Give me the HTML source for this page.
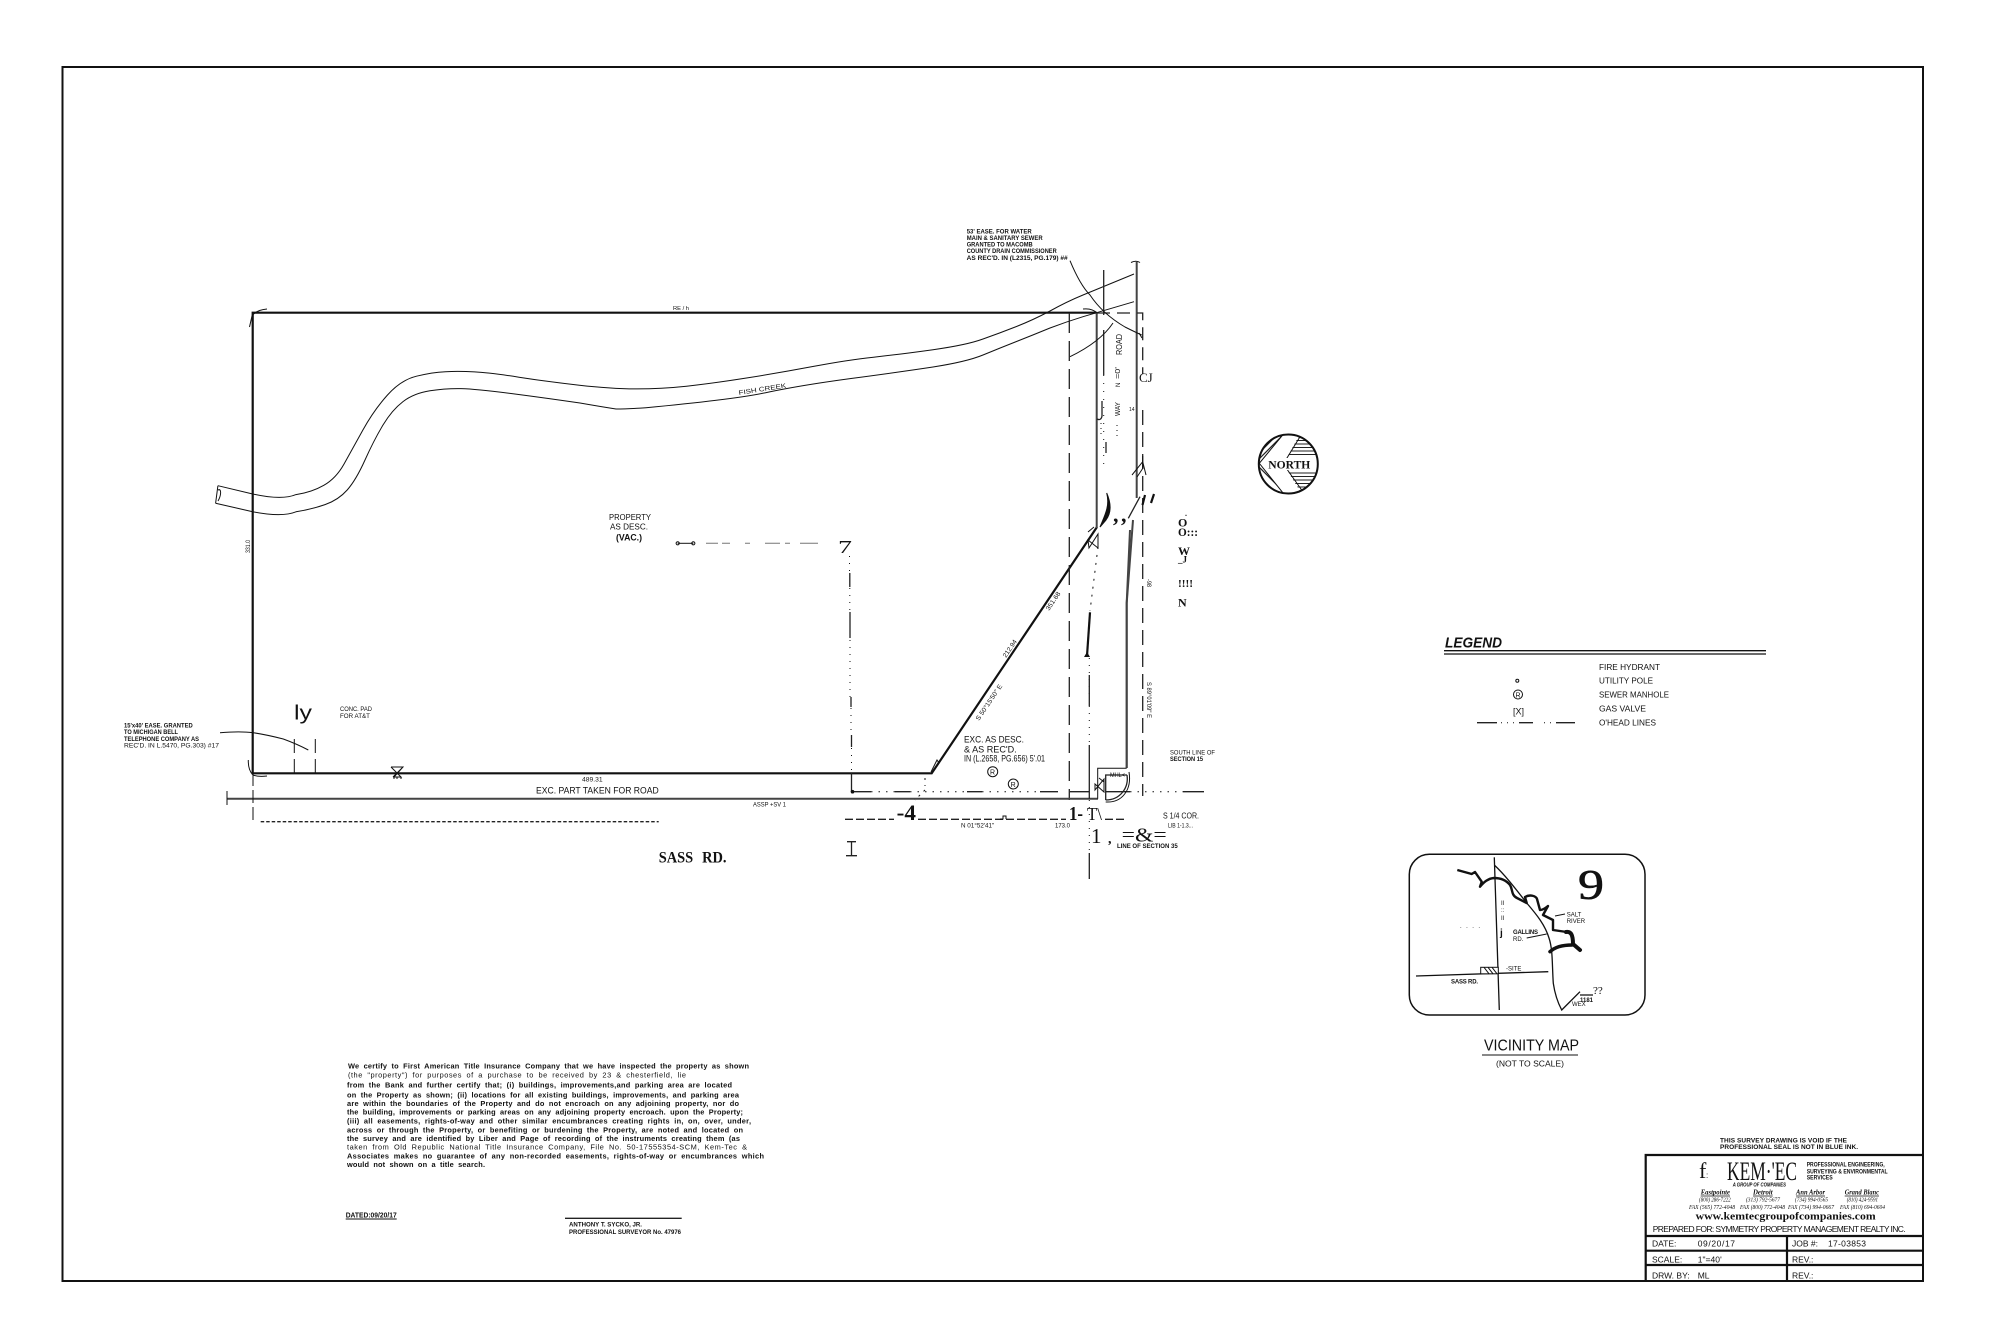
<!DOCTYPE html>
<html><head><meta charset="utf-8"><title>Survey</title>
<style>
html,body{margin:0;padding:0;background:#fff}
svg{display:block}
text{font-family:"Liberation Sans",sans-serif;fill:#111}
.s{font-family:"Liberation Serif",serif}
.b{font-weight:bold}
.l{fill:none;stroke:#111;stroke-width:1}
.m{fill:none;stroke:#222;stroke-width:1.3}
.t{fill:none;stroke:#111;stroke-width:2.2}
.g{fill:none;stroke:#444;stroke-width:2}
</style></head><body>
<svg xmlns="http://www.w3.org/2000/svg" width="2000" height="1333" viewBox="0 0 2000 1333">
<rect width="2000" height="1333" fill="#fff"/>
<rect x="62.5" y="67" width="1860.5" height="1214" fill="none" stroke="#111" stroke-width="2"/>

<!-- creek -->
<path class="l" d="M217.9,485.7 L252.7,494 Q282,500.5 296,494.6 Q311.6,492.3 323.8,485.3 Q336,478.3 343.9,464.2 Q351.8,450 362.9,430 Q374,410 387.5,395 Q400.9,380 416.5,376.2 Q432,372.3 445.5,371.7 Q459,371 474.5,371.9 Q490,372.7 519,377.2 Q548,381.7 579.4,385.2 Q610.7,388.7 635.4,388.9 Q660,389 686.5,386.2 Q713,383.3 746.5,378 Q780,372.7 813.5,366.4 Q847,360 873.5,357.2 Q900,354.3 933,349.7 Q966.7,345 983,339 Q1000,333 1016.5,326.5 Q1033,320 1050,311 Q1066.7,301.7 1083,295 Q1100,288 1117,281 L1134,274"/>
<path class="l" d="M215.6,503.3 L252.7,511.7 Q282,517.5 296,511.8 Q311.6,509.3 325,504.6 Q338.4,500 347.2,490 Q356,480 365,460 Q374,440 383,425 Q392,410 403,401.6 Q414,393.3 430,390.8 Q445.5,388.3 461,388.6 Q476.8,389 512,393.6 Q548,398.3 580,403 Q600,406.5 616,409 Q628,409 646,407.7 Q735.7,399.3 769,392 Q802.7,385 851,378.5 Q900,372 933,367 Q966.7,361.7 983,355 Q1000,348 1016.5,341.5 Q1033,335 1050,328 Q1066.7,321.7 1083,316.7 Q1100,311.7 1117,306.7 L1134,301.7"/>
<path class="l" d="M217.9,485.7 L215.6,503.3 M218,490 C222,488 221,496 218,501"/>

<!-- property boundary -->
<path class="t" d="M1096.7,312.7 H252.7 V773.3 H931.7 L1097,527"/>
<path class="g" d="M1096.7,312.7 V528"/>
<path class="g" d="M1136.7,262 V498" stroke-width="1.5"/>
<path class="l" d="M1131,262.5 Q1136,260 1140,262.5"/>
<path class="g" d="M1133,520 L1126.7,603 V768" stroke-width="2.5"/>
<path class="g" d="M1130,530 L1126.7,603 V768" stroke-width="3"/>
<path class="l" d="M267,309 Q256,310 252,316 L249.5,327"/>
<path class="l" d="M248.3,760 Q248,770 253,775 Q258,777 267,776"/>
<path class="l" d="M1083,309 Q1092,308 1097,313"/>

<!-- dashed columns -->
<path class="m" stroke-dasharray="20 8" d="M1069.3,313 V800"/>
<path class="m" stroke-dasharray="13 7" d="M1097,313 H1142.7 V374"/>
<path class="m" stroke-dasharray="15 7" d="M1142.7,410 V796"/>
<path class="m" d="M1103.7,270 V315 M1103.7,330 V375"/>
<path class="l" stroke-dasharray="1 7" d="M1103.7,375 V470"/>

<!-- leaders -->
<path class="l" d="M1070,260.7 C1078,280 1085,290 1090,295 C1100,310 1113,320 1125,327 Q1135,332 1141.7,335"/>
<path class="l" d="M1113,323 C1105,335 1090,347 1070,356.7"/>
<path class="l" d="M1139,333 L1142,338"/>

<!-- OCR-y marks -->
<path d="M1106.7,493 C1111,503 1112,512 1106,520 L1100,527 C1105,515 1110,506 1106.7,493Z" fill="#111" stroke="#111"/>
<path class="m" d="M1128.3,518.3 L1140,496.7"/>
<path class="t" d="M1145,495 L1142.5,505 M1154,494 L1151,503"/>
<path class="l" d="M1132,475 L1142.7,461.7 L1146,475 M1137,477 L1143,468 M1142.7,456 V468"/>
<path class="l" d="M1088,540 L1098,548 V534 L1089,548 Z M1088,532 L1094,527"/>
<path class="m" d="M1102,401 V416 Q1101,421 1097,419" stroke-width="1.6"/>
<path class="l" stroke-dasharray="1 4" d="M1101,423 V438 M1117,425 V440"/>
<path class="m" d="M1106,442 V453" stroke-width="1.8"/>

<!-- line near 7 -->
<circle cx="677.7" cy="543.3" r="1.6" class="l"/><circle cx="693.3" cy="543.3" r="1.6" class="l"/>
<path class="l" d="M677.7,543.3 H693.3"/>
<path class="l" d="M706,543.3 H718 M765,543.3 H780 M800,543.3 H818 M722,543.3 H730 M745,543.3 H750 M785,543.3 H790" style="stroke:#777"/>
<path class="m" d="M849.8,573 V587 M850,612 V638 M851,697 V707 M851.5,735 V747 M851.5,773 V792"/>
<path class="l" stroke-dasharray="1 6" d="M849.5,556 V573 M849.8,588 V612 M850,640 V697 M851,708 V735 M851.5,748 V773"/>
<path class="m" d="M847,841.7 H856 M851.5,841.7 V855.7 M846,855.7 H857"/>

<!-- road lines -->
<path class="g" d="M227.5,798.7 H1098" stroke-width="1.6"/>
<path class="l" d="M227,791 V805"/>
<path class="l" stroke-dasharray="13 4" d="M253,773 V820"/>
<path class="m" stroke-dasharray="3.5 2" d="M260.7,821.7 H658.7" stroke-width="2"/>
<path class="m" stroke-dasharray="8 3" d="M845,819.3 H895 M918,819.3 H1066"/>
<path class="m" stroke-dasharray="8 3" d="M1105,819.3 H1125"/>
<path class="l" d="M1000,819 H1003 V816 H1006 V819"/>
<!-- dash dot centre line -->
<path class="m" d="M853,791.7 H871 M895,791.7 H910 M967,791.7 H982 M1040,791.7 H1058 M1070,791.7 H1089 M1106,791.7 H1130 M1183,791.7 H1204"/>
<path class="l" stroke-dasharray="1.5 6" d="M871,791.7 H895 M910,791.7 H967 M982,791.7 H1040 M1130,791.7 H1183"/>
<circle cx="852.5" cy="791.7" r="1.8" fill="#111"/>
<!-- corner building -->
<path class="l" d="M1097.7,798.7 V768.3 H1126.7"/>
<path class="m" d="M1105.7,800 V775 H1127 M1127,775 C1129,788 1120,800 1105.7,800"/>
<path class="l" d="M1129,772 C1132,790 1122,803 1105.7,802"/>
<path class="l" d="M1095,784 L1104,792 V779 L1095,790 Z M1099,778 L1104,782"/>
<!-- dash dot line vertical -->
<path class="l" stroke-dasharray="2 6" d="M1098,547 L1090,611"/>
<path class="t" d="M1090,612.3 L1087,656"/>
<path d="M1084,657 L1087,652 L1090,657Z" fill="#111"/>
<path class="l" stroke-dasharray="1 6" d="M1089.3,658 V700 M1089.3,706 V745 M1089.3,800 V853"/>
<path class="m" d="M1089.3,675 V706 M1089.3,745 V798.7 M1089.3,853 V879"/>
<path class="l" stroke-dasharray="2 5" d="M925,778 V786 M925,790 L915,800"/>
<path class="l" d="M931,772 L937,760 L939,763"/>

<!-- easement ticks, hydrant -->
<path class="l" d="M220,732.7 Q240,731 253.3,732.7 Q268,735 283.3,739 Q297,744 308.3,750"/>
<path class="l" d="M294.3,739 V753 M294.3,759 V773 M315.3,739 V753 M315.3,759 V773"/>
<path class="l" d="M391,767 H403 L394,777 H401 L391,767 M403,767 L393,777 M394,777 V779 M397,777 V779 M401,777 V779"/>
<circle cx="992.7" cy="771.7" r="5" class="l"/><circle cx="1013.3" cy="784" r="5" class="l"/>

<!-- north arrow -->
<defs><clipPath id="nc"><circle cx="1288.3" cy="464" r="29.5"/></clipPath></defs>
<g clip-path="url(#nc)">
<path stroke="#222" stroke-width="1.1" fill="none" d="M1280,437H1320M1280,440.5H1320M1280,444H1320M1280,447.5H1320M1280,451H1320M1280,454.5H1320M1285,473H1320M1285,476.5H1320M1285,480H1320M1285,483.5H1320M1285,487H1320M1285,490.5H1320"/>
<path stroke="#222" stroke-width="1.3" fill="none" d="M1252,448L1270,430M1252,454L1276,430M1252,460L1282,430M1252,466L1288,430M1252,470L1280,498M1252,476L1274,498M1252,482L1268,498M1252,488L1262,498M1258,466L1290,498"/>
<polygon points="1283.3,434 1259.3,463.3 1283.3,493.3 1301.7,494 1283.3,464 1300,434" fill="#fff"/>
</g>
<path class="l" d="M1283.3,434.3 L1259.3,463.3 L1283.3,493.3 M1300,436.7 L1283.3,464 L1301.7,490"/>
<circle cx="1288.3" cy="464" r="29.5" fill="none" stroke="#111" stroke-width="2"/>
<rect x="1266" y="458" width="46" height="12" fill="#fff"/>
<text class="s b" x="1268.3" y="468.3" font-size="12" textLength="42" lengthAdjust="spacingAndGlyphs">NORTH</text>

<!-- legend -->
<text class="b" font-style="italic" x="1445" y="647.7" font-size="15" textLength="57" lengthAdjust="spacingAndGlyphs">LEGEND</text>
<path class="l" d="M1444,650.7 H1766 M1444,654 H1766" style="stroke-width:1.3"/>
<g font-size="8.5">
<text x="1599" y="670" textLength="61" lengthAdjust="spacingAndGlyphs">FIRE HYDRANT</text>
<text x="1599" y="683.7" textLength="54" lengthAdjust="spacingAndGlyphs">UTILITY POLE</text>
<text x="1599" y="697.7" textLength="70" lengthAdjust="spacingAndGlyphs">SEWER MANHOLE</text>
<text x="1599" y="711.3" textLength="47" lengthAdjust="spacingAndGlyphs">GAS VALVE</text>
<text x="1599" y="725.3" textLength="57" lengthAdjust="spacingAndGlyphs">O'HEAD LINES</text>
</g>
<circle cx="1517.3" cy="680.7" r="1.5" class="l"/>
<circle cx="1518" cy="694.5" r="4.5" class="l"/><text x="1515.5" y="697.5" font-size="7">R</text>
<text x="1513" y="714.5" font-size="9">[X]</text>
<path class="m" d="M1477,722.7 H1497 M1519,722.7 H1533 M1556,722.7 H1575"/>
<path class="l" stroke-dasharray="1 5" d="M1501,722.7 H1517 M1544,722.7 H1554"/>

<!-- vicinity -->
<rect x="1409.3" y="854.3" width="235.7" height="160.7" rx="20" fill="none" stroke="#111" stroke-width="1.5"/>
<path fill="none" stroke="#111" stroke-width="2.4" stroke-linejoin="round" d="M1457.3,870 L1471.7,874 L1475,872 L1481.7,881.7 L1480,886.7 C1484,882 1488,878.5 1494,878 C1500,878 1506,880 1510,885 C1513,890 1511,895 1517,898 L1526.7,903 L1525,897 C1530,894 1536,896 1537,899 L1540,910 C1543,910 1547,907 1548,906 L1543,915 L1553,920 L1553,930 L1566.7,932"/>
<path fill="none" stroke="#111" stroke-width="4" stroke-linecap="round" d="M1566,932 C1571,931 1573,935 1573,944 L1580,950"/>
<path fill="none" stroke="#111" stroke-width="3.5" stroke-linecap="round" d="M1550,951.7 C1555,947 1562,945 1572,945"/>
<path class="l" style="stroke-width:1.3" d="M1494.3,857.3 L1499.3,1010 M1494.3,865 C1505,875 1515,888 1526.7,903 C1537,915 1545,925 1549,938 C1553,950 1552,965 1553.3,983.3 C1555,995 1558,1003 1561.7,1010 L1580,991.7 M1580,995 H1593"/>
<path class="l" style="stroke-width:1.3" d="M1416,976 L1548.3,971.7"/>
<path class="l" d="M1526.7,938 L1546.7,934 M1555,916 L1565,914"/>
<rect x="1480.7" y="967.3" width="17.6" height="6.5" fill="#fff" stroke="#111"/>
<path class="l" d="M1484,967.3 L1489,973.8 M1488,967.3 L1493,973.8 M1492,967.3 L1497,973.8"/>
<text class="s" x="1578" y="899" font-size="42" textLength="26" lengthAdjust="spacingAndGlyphs" style="stroke:#111;stroke-width:.6">9</text>
<g font-size="6">
<text x="1566.7" y="916.7">SALT</text><text x="1566.7" y="923">RIVER</text>
<text class="b" x="1513" y="934" textLength="25">GALLINS</text><text x="1513" y="941">RD.</text>
<text x="1506" y="970.7">-SITE</text>
<text class="b" x="1451" y="983.3" textLength="27">SASS RD.</text>
<text x="1460" y="928" textLength="20">....</text>
<text x="1572" y="1006">WEX</text>
<text class="b" x="1580" y="1002">1181</text>
<text x="1501" y="905">II</text><text x="1501" y="912">::</text><text x="1501" y="920">II</text>
</g>
<text class="b" x="1500" y="936" font-size="10">j</text>
<text class="s" x="1593" y="994" font-size="11">??</text>
<text x="1484" y="1050.7" font-size="16" textLength="95" lengthAdjust="spacingAndGlyphs">VICINITY MAP</text>
<path class="l" d="M1482,1055 H1578"/>
<text x="1496" y="1066.7" font-size="8" textLength="68" lengthAdjust="spacingAndGlyphs">(NOT TO SCALE)</text>

<!-- plan labels -->
<g font-size="6.5" class="b">
<text class="b" x="966.7" y="233.3" textLength="65" lengthAdjust="spacingAndGlyphs">53' EASE. FOR WATER</text>
<text class="b" x="966.7" y="240" textLength="76" lengthAdjust="spacingAndGlyphs">MAIN &amp; SANITARY SEWER</text>
<text class="b" x="966.7" y="246.7" textLength="66" lengthAdjust="spacingAndGlyphs">GRANTED TO MACOMB</text>
<text class="b" x="966.7" y="253" textLength="90" lengthAdjust="spacingAndGlyphs">COUNTY DRAIN COMMISSIONER</text>
<text class="b" x="966.7" y="260" textLength="101" lengthAdjust="spacingAndGlyphs">AS REC'D. IN (L2315, PG.179) ##</text>
</g>
<g font-size="6.5">
<text class="b" x="124" y="727.3" textLength="68.7" lengthAdjust="spacingAndGlyphs">15'x40' EASE. GRANTED</text>
<text class="b" x="124" y="734" textLength="54" lengthAdjust="spacingAndGlyphs">TO MICHIGAN BELL</text>
<text class="b" x="124" y="741" textLength="75" lengthAdjust="spacingAndGlyphs">TELEPHONE COMPANY AS</text>
<text x="124" y="747.3" textLength="95" lengthAdjust="spacingAndGlyphs">REC'D. IN L.5470, PG.303) #17</text>
<text x="340" y="711" textLength="32" lengthAdjust="spacingAndGlyphs">CONC. PAD</text>
<text x="340" y="718" textLength="30" lengthAdjust="spacingAndGlyphs">FOR AT&amp;T</text>
<text x="582" y="781.3" textLength="20.6" lengthAdjust="spacingAndGlyphs">489.31</text>
<text x="753" y="806.7" textLength="33" lengthAdjust="spacingAndGlyphs">ASSP +SV 1</text>
<text x="673" y="310" font-size="5" textLength="16" lengthAdjust="spacingAndGlyphs">RE / h</text>
<text x="961" y="827.3" textLength="33.3" lengthAdjust="spacingAndGlyphs">N 01°52'41"</text>
<text x="1055" y="827.3" textLength="15" lengthAdjust="spacingAndGlyphs">173.0</text>
<text x="1168" y="827.7" textLength="25" lengthAdjust="spacingAndGlyphs">LIB 1-1.3...</text>
<text x="1170" y="754.3" textLength="45" lengthAdjust="spacingAndGlyphs">SOUTH LINE OF</text>
<text class="b" x="1170" y="761" textLength="33" lengthAdjust="spacingAndGlyphs">SECTION 15</text>
<text class="b" x="1117" y="848" textLength="60.7" lengthAdjust="spacingAndGlyphs">LINE OF SECTION 35</text>
<text x="1110" y="777" textLength="15" lengthAdjust="spacingAndGlyphs">MHL&lt;</text>
<text transform="translate(250,553) rotate(-90)" font-size="6" textLength="13" lengthAdjust="spacingAndGlyphs">331.0</text>
<text transform="translate(739,395) rotate(-9)" textLength="48" lengthAdjust="spacingAndGlyphs">FISH CREEK</text>
<text transform="translate(979,721) rotate(-56)" textLength="42" lengthAdjust="spacingAndGlyphs">S 50°15'50" E</text>
<text transform="translate(1006,658) rotate(-56)" textLength="20" lengthAdjust="spacingAndGlyphs">212.94</text>
<text transform="translate(1049,611) rotate(-56)" textLength="21" lengthAdjust="spacingAndGlyphs">351.68</text>
<text transform="translate(1147,682) rotate(90)" textLength="36" lengthAdjust="spacingAndGlyphs">S 89°01'09" E</text>
<text transform="translate(1147,579) rotate(90)" textLength="8" lengthAdjust="spacingAndGlyphs">-98</text>
</g>
<text transform="translate(1122,355) rotate(-90)" font-size="8" textLength="21" lengthAdjust="spacingAndGlyphs">ROAD</text>
<text transform="translate(1120,379) rotate(-90)" font-size="7" textLength="12" lengthAdjust="spacingAndGlyphs">=0'</text>
<text transform="translate(1120,387) rotate(-90)" font-size="6">N</text>
<text transform="translate(1120,416) rotate(-90)" font-size="7" textLength="14" lengthAdjust="spacingAndGlyphs">WAY</text>
<text x="1129" y="411" font-size="5">14</text>
<text x="609" y="520" font-size="8" textLength="42" lengthAdjust="spacingAndGlyphs">PROPERTY</text>
<text x="610" y="529.3" font-size="8" textLength="38" lengthAdjust="spacingAndGlyphs">AS DESC.</text>
<text class="b" x="616" y="540.7" font-size="9" textLength="26" lengthAdjust="spacingAndGlyphs">(VAC.)</text>
<text x="536" y="793.3" font-size="9" textLength="122.7" lengthAdjust="spacingAndGlyphs">EXC. PART TAKEN FOR ROAD</text>
<text class="s b" x="658.7" y="862.3" font-size="16" textLength="67.8" lengthAdjust="spacingAndGlyphs" word-spacing="6">SASS RD.</text>
<text x="294" y="719.3" font-size="20" textLength="18" lengthAdjust="spacingAndGlyphs">ly</text>
<text x="964" y="742.7" font-size="9" textLength="60" lengthAdjust="spacingAndGlyphs">EXC. AS DESC.</text>
<text x="964" y="752.3" font-size="9" textLength="52.7" lengthAdjust="spacingAndGlyphs">&amp; AS REC'D.</text>
<text x="964" y="761.7" font-size="9" textLength="81" lengthAdjust="spacingAndGlyphs">IN (L.2658, PG.656) 5'.01</text>
<text x="1163" y="818.3" font-size="8" textLength="36" lengthAdjust="spacingAndGlyphs">S 1/4 COR.</text>
<text x="990" y="774.5" font-size="7">R</text><text x="1010.6" y="786.8" font-size="7">R</text>
<rect x="894" y="806" width="24" height="16" fill="#fff"/>
<text class="s b" x="896.7" y="820" font-size="22" textLength="19.3" lengthAdjust="spacingAndGlyphs">-4</text>
<text class="s b" x="1069" y="820" font-size="20" textLength="14" lengthAdjust="spacingAndGlyphs">1-</text>
<text class="s" x="1087" y="820" font-size="18" textLength="15" lengthAdjust="spacingAndGlyphs">T\</text>
<text class="s" x="1091" y="843" font-size="21">1</text>
<text class="s b" x="1108" y="843" font-size="14">,</text>
<text class="s" x="1121.7" y="841.7" font-size="20" textLength="45" lengthAdjust="spacingAndGlyphs">=&amp;=</text>
<text class="s" x="838" y="553" font-size="18" textLength="14" lengthAdjust="spacingAndGlyphs">7</text>
<text class="s b" x="1113" y="522" font-size="22">,</text><text class="s b" x="1121" y="522" font-size="22">,</text>
<text class="s" x="1139" y="382" font-size="13">CJ</text>
<text class="s b" x="1185" y="516" font-size="8">.</text>
<text class="s b" x="1178" y="526.7" font-size="12">O</text>
<text class="s b" x="1178" y="536" font-size="12" textLength="20" lengthAdjust="spacingAndGlyphs">O:::</text>
<text class="s b" x="1178" y="555" font-size="12">W</text>
<text class="s b" x="1178" y="562.7" font-size="9">_J</text>
<text class="s b" x="1178" y="587" font-size="10" textLength="15" lengthAdjust="spacingAndGlyphs">!!!!</text>
<text class="s b" x="1178" y="606.7" font-size="12">N</text>

<!-- certification -->
<g font-size="7.4" word-spacing="2">
<text class="b" x="348" y="1068.3" textLength="401" lengthAdjust="spacing">We certify to First American Title Insurance Company that we have inspected the property as shown</text>
<text x="348" y="1077.3" textLength="338" lengthAdjust="spacing">(the "property") for purposes of a purchase to be received by 23 &amp; chesterfield, lie</text>
<text class="b" x="347" y="1087.3" textLength="385" lengthAdjust="spacing">from the Bank and further certify that; (i) buildings, improvements,and parking area are located</text>
<text class="b" x="347" y="1097.3" textLength="392" lengthAdjust="spacing">on the Property as shown; (ii) locations for all existing buildings, improvements, and parking area</text>
<text class="b" x="347" y="1106" textLength="392" lengthAdjust="spacing">are within the boundaries of the Property and do not encroach on any adjoining property, nor do</text>
<text class="b" x="347" y="1114.7" textLength="396" lengthAdjust="spacing">the building, improvements or parking areas on any adjoining property encroach. upon the Property;</text>
<text class="b" x="347" y="1123.7" textLength="404" lengthAdjust="spacing">(iii) all easements, rights-of-way and other similar encumbrances creating rights in, on, over, under,</text>
<text class="b" x="347" y="1132.3" textLength="396" lengthAdjust="spacing">across or through the Property, or benefiting or burdening the Property, are noted and located on</text>
<text class="b" x="347" y="1141" textLength="393" lengthAdjust="spacing">the survey and are identified by Liber and Page of recording of the instruments creating them (as</text>
<text x="347" y="1149.3" textLength="400" lengthAdjust="spacing">taken from Old Republic National Title Insurance Company, File No. 50-17555354-SCM, Kem-Tec &amp;</text>
<text class="b" x="347" y="1158.3" textLength="417" lengthAdjust="spacing">Associates makes no guarantee of any non-recorded easements, rights-of-way or encumbrances which</text>
<text class="b" x="347" y="1167" textLength="138" lengthAdjust="spacing">would not shown on a title search.</text>
</g>
<text class="b" x="345.7" y="1217.7" font-size="7" textLength="51" lengthAdjust="spacingAndGlyphs">DATED:09/20/17</text>
<path class="l" d="M345.7,1219 H396.7"/>
<path class="m" d="M565,1218.3 H681.7"/>
<text class="b" x="569" y="1226.7" font-size="6.5" textLength="73" lengthAdjust="spacingAndGlyphs">ANTHONY T. SYCKO, JR.</text>
<text class="b" x="569" y="1234" font-size="6.5" textLength="112" lengthAdjust="spacingAndGlyphs">PROFESSIONAL SURVEYOR No. 47976</text>

<!-- title block -->
<text class="b" x="1720" y="1142.3" font-size="6.5" textLength="127" lengthAdjust="spacing">THIS SURVEY DRAWING IS VOID IF THE</text>
<text class="b" x="1720" y="1149" font-size="6.5" textLength="138" lengthAdjust="spacing">PROFESSIONAL SEAL IS NOT IN BLUE INK.</text>
<path class="t" d="M1645.7,1281 V1155 H1923 M1645.7,1236 H1923 M1645.7,1250.7 H1923 M1645.7,1265 H1923 M1787,1236 V1281"/>
<text class="s" x="1699" y="1178" font-size="22">f</text><text x="1706" y="1178" font-size="8">:</text>
<text class="s" x="1727" y="1180" font-size="26" textLength="70" lengthAdjust="spacingAndGlyphs">KEM·'EC</text>
<g class="b" font-size="6">
<text class="b" x="1806.7" y="1166.7" textLength="78" lengthAdjust="spacingAndGlyphs">PROFESSIONAL ENGINEERING,</text>
<text class="b" x="1806.7" y="1173.3" textLength="81" lengthAdjust="spacingAndGlyphs">SURVEYING &amp; ENVIRONMENTAL</text>
<text class="b" x="1806.7" y="1179.3" textLength="26" lengthAdjust="spacingAndGlyphs">SERVICES</text>
</g>
<text class="b" font-style="italic" x="1732.7" y="1186.7" font-size="5.5" textLength="53.3" lengthAdjust="spacingAndGlyphs">A GROUP OF COMPANIES</text>
<g font-size="7" font-style="italic">
<text class="s b" x="1700.7" y="1194.7" textLength="29.3" lengthAdjust="spacingAndGlyphs">Eastpointe</text>
<text class="s b" x="1753" y="1194.7" textLength="19.7" lengthAdjust="spacingAndGlyphs">Detroit</text>
<text class="s b" x="1796" y="1194.7" textLength="29" lengthAdjust="spacingAndGlyphs">Ann Arbor</text>
<text class="s b" x="1844.7" y="1194.7" textLength="34.3" lengthAdjust="spacingAndGlyphs">Grand Blanc</text>
<text class="s" x="1699" y="1201.5" font-size="6" textLength="31.7" lengthAdjust="spacingAndGlyphs">(800) 286-7222</text>
<text class="s" x="1746" y="1201.5" font-size="6" textLength="34" lengthAdjust="spacingAndGlyphs">(313) 792-5677</text>
<text class="s" x="1795" y="1201.5" font-size="6" textLength="33" lengthAdjust="spacingAndGlyphs">(734) 994-0565</text>
<text class="s" x="1846.7" y="1201.5" font-size="6" textLength="31.3" lengthAdjust="spacingAndGlyphs">(810) 424-9591</text>
<text class="s" x="1689" y="1209" font-size="6" textLength="46" lengthAdjust="spacingAndGlyphs">FAX (565) 772-4048</text>
<text class="s" x="1740" y="1209" font-size="6" textLength="45" lengthAdjust="spacingAndGlyphs">FAX (800) 772-4048</text>
<text class="s" x="1788" y="1209" font-size="6" textLength="46" lengthAdjust="spacingAndGlyphs">FAX (734) 994-0667</text>
<text class="s" x="1840" y="1209" font-size="6" textLength="45" lengthAdjust="spacingAndGlyphs">FAX (810) 694-0604</text>
</g>
<path class="l" style="stroke-width:.7" d="M1700.7,1196 H1730 M1753,1196 H1772.7 M1796,1196 H1825 M1844.7,1196 H1879"/>
<text class="s b" x="1695.7" y="1219.7" font-size="10" textLength="180" lengthAdjust="spacingAndGlyphs">www.kemtecgroupofcompanies.com</text>
<text x="1652.7" y="1232" font-size="8.5" textLength="253" lengthAdjust="spacing">PREPARED FOR: SYMMETRY PROPERTY MANAGEMENT REALTY INC.</text>
<g font-size="8.5">
<text x="1652" y="1246.7">DATE:</text><text x="1697.7" y="1246.7" textLength="37.3" lengthAdjust="spacing">09/20/17</text>
<text x="1792" y="1246.7">JOB #:</text><text x="1828" y="1246.7" textLength="38" lengthAdjust="spacing">17-03853</text>
<text x="1652" y="1262.3">SCALE:</text><text x="1697.7" y="1262.3" textLength="24" lengthAdjust="spacing">1"=40'</text>
<text x="1792" y="1262.3">REV.:</text>
<text x="1652" y="1278.3">DRW. BY:</text><text x="1697.7" y="1278.3">ML</text>
<text x="1792" y="1278.3">REV.:</text>
</g>
</svg>
</body></html>
